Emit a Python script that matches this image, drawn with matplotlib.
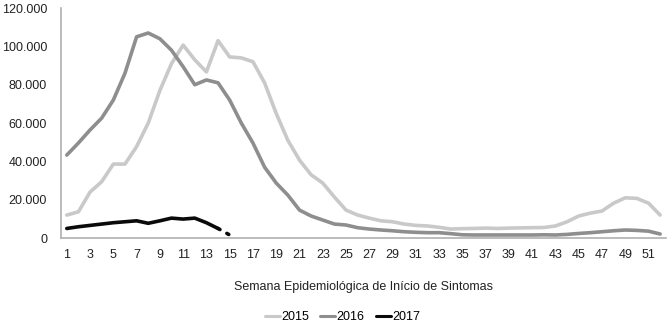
import matplotlib.pyplot as plt
from matplotlib.ticker import FuncFormatter

plt.rcParams['font.family'] = ['Liberation Sans', 'DejaVu Sans']

# casos por semana epidemiológica
weeks = list(range(1, 53))
cases_2015 = [12000, 13700, 24000, 29400, 38600, 38600, 47700, 60000, 77000, 91000,
              100700, 93000, 86700, 103000, 94500, 94000, 92000, 81000, 65000, 51000,
              40700, 33000, 28700, 21400, 14600, 12000, 10400, 9000, 8500, 7300,
              6600, 6300, 5600, 4700, 4900, 5000, 5200, 5000, 5200, 5300,
              5400, 5500, 6300, 8500, 11500, 13000, 14100, 18200, 21000, 20700,
              18200, 12000]
cases_2016 = [43300, 49600, 56400, 62600, 72000, 86000, 105000, 107000, 104000, 98000,
              89400, 80000, 82500, 81000, 72000, 60000, 49600, 37000, 28700, 22400,
              14600, 11500, 9400, 7300, 6800, 5400, 4700, 4200, 3800, 3300,
              3000, 2800, 2800, 2300, 1700, 1600, 1600, 1600, 1600, 1600,
              1600, 1700, 1600, 1900, 2400, 2800, 3300, 3800, 4200, 4000,
              3600, 2100]
weeks_2017 = list(range(1, 15))
cases_2017 = [5000, 5900, 6600, 7300, 8000, 8500, 9000, 7700, 9000, 10400,
              9900, 10400, 8000, 5000]
# última semana ainda incompleta (pontilhada)
weeks_2017_partial = [14, 15]
cases_2017_partial = [5000, 1600]

labels = ["2015", "2016", "2017"]
colors = ["#c9c9c9", "#8e8e8e", "#0a0a0a"]

fig = plt.figure(figsize=(6.7, 3.23), dpi=100)
ax = fig.add_axes([0.091, 0.263, 0.903, 0.712])

line_kw = dict(lw=2.6, solid_capstyle="round", solid_joinstyle="round")
ax.plot(weeks, cases_2015, color=colors[0], label=labels[0], **line_kw)
ax.plot(weeks, cases_2016, color=colors[1], label=labels[1], **line_kw)
ax.plot(weeks_2017, cases_2017, color=colors[2], label=labels[2], **line_kw)
ax.plot(weeks_2017_partial, cases_2017_partial, color=colors[2], lw=2.6,
        linestyle=(0, (0.6, 2.2)), dash_capstyle="round")

ax.set_xlim(0.5, 52.5)
ax.set_ylim(0, 120000)
ax.set_xticks(range(1, 53, 2))
ax.set_yticks(range(0, 120001, 20000))
ax.yaxis.set_major_formatter(FuncFormatter(lambda v, p: f"{int(v):,}".replace(",", ".")))
ax.tick_params(axis="both", length=0, labelsize=9, colors="#222222")
ax.tick_params(axis="x", pad=8)
ax.tick_params(axis="y", pad=10)

for side in ["top", "right"]:
    ax.spines[side].set_visible(False)
for side in ["left", "bottom"]:
    ax.spines[side].set_color("#b0b0b0")
    ax.spines[side].set_linewidth(1.2)

ax.set_xlabel("Semana Epidemiológica de Início de Sintomas", fontsize=9,
              color="#222222", labelpad=14)

leg = ax.legend(loc="upper center", bbox_to_anchor=(0.465, -0.27), ncol=3, frameon=False,
                fontsize=9, handlelength=1.2, handletextpad=0.1, columnspacing=0.9)
for h in leg.get_lines():
    h.set_linewidth(2.2)

fig.savefig("out.png", dpi=100)
